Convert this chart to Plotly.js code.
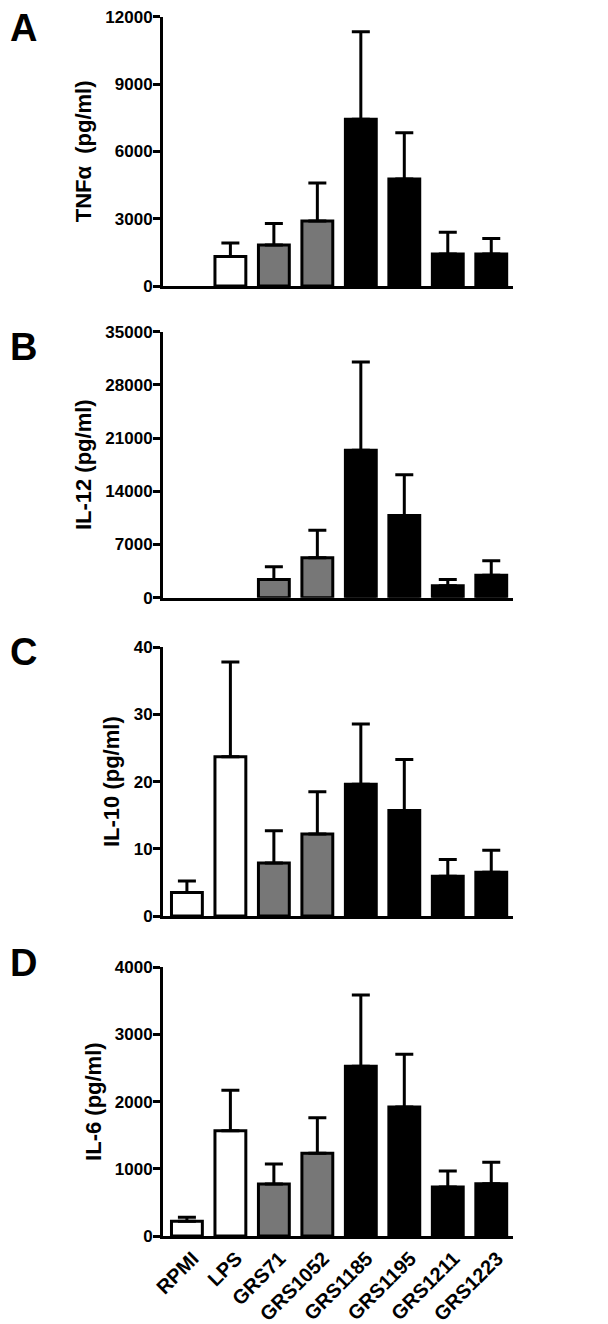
<!DOCTYPE html>
<html>
<head>
<meta charset="utf-8">
<script src="https://cdn.plot.ly/plotly-3.0.1.min.js"></script>
<style>
  html, body { margin: 0; padding: 0; background: #fff; }
  #chart { width: 608px; height: 1324px; }
</style>
</head>
<body>
<div id="chart"></div>
<script>
const categories = ['RPMI', 'LPS', 'GRS71', 'GRS1052', 'GRS1185', 'GRS1195', 'GRS1211', 'GRS1223'];
const barColors = ['#ffffff', '#ffffff', '#777777', '#777777', '#000000', '#000000', '#000000', '#000000'];

const tnfMean = [0, 1320, 1830, 2900, 7430, 4770, 1430, 1430];
const tnfErr  = [0, 600, 950, 1690, 3900, 2060, 960, 690];

const il12Mean = [0, 0, 2410, 5260, 19390, 10830, 1580, 2940];
const il12Err  = [0, 0, 1670, 3600, 11620, 5350, 830, 1930];

const il10Mean = [3.5, 23.7, 7.9, 12.2, 19.6, 15.7, 5.9, 6.5];
const il10Err  = [1.7, 14.1, 4.8, 6.3, 9.0, 7.6, 2.5, 3.3];

const il6Mean = [218, 1568, 774, 1231, 2526, 1921, 730, 779];
const il6Err  = [60, 600, 298, 531, 1062, 784, 238, 318];

const panelLetters = ['A', 'B', 'C', 'D'];
const yTitles = ['TNFα  (pg/ml)', 'IL-12 (pg/ml)', 'IL-10 (pg/ml)', 'IL-6 (pg/ml)'];
const yMax = [12000, 35000, 40, 4000];
const yDtick = [3000, 7000, 10, 1000];

const H = 1324, W = 608;
const FONT = 'Liberation Sans, Arial, Helvetica, sans-serif';
// pixel extents of each plot area (top, bottom)
const panelPx = [[16.7, 286], [331.7, 597.7], [647.3, 916], [967.3, 1236]];
const letterY = [28, 347, 652, 963];
const xDomain = [163 / W, 513 / W];

const series = [[tnfMean, tnfErr], [il12Mean, il12Err], [il10Mean, il10Err], [il6Mean, il6Err]];

const data = series.map((s, i) => ({
  type: 'bar',
  x: categories,
  y: s[0].map(v => (v === 0 ? null : v)),
  xaxis: 'x' + (i === 0 ? '' : i + 1),
  yaxis: 'y' + (i === 0 ? '' : i + 1),
  width: 0.71,
  marker: { color: barColors, line: { color: '#000', width: 3 } },
  error_y: {
    type: 'data', symmetric: false, array: s[1], arrayminus: s[1].map(() => 0),
    color: '#000', thickness: 3, width: 9
  },
  cliponaxis: false,
  hoverinfo: 'skip',
  showlegend: false
}));

const layout = {
  width: W, height: H,
  margin: { l: 0, r: 0, t: 0, b: 0 },
  paper_bgcolor: '#fff', plot_bgcolor: '#fff',
  font: { family: FONT, color: '#000', size: 17, weight: 'bold' },
  bargap: 0.29,
  annotations: []
};

for (let i = 0; i < 4; i++) {
  const sfx = i === 0 ? '' : String(i + 1);
  const [top, bot] = panelPx[i];
  layout['xaxis' + sfx] = {
    domain: xDomain,
    anchor: 'y' + sfx,
    type: 'category',
    categoryorder: 'array', categoryarray: categories,
    range: [-0.55, 7.5],
    showline: true, linecolor: '#000', linewidth: 3,
    ticks: '', showgrid: false, zeroline: false,
    showticklabels: i === 3,
    tickangle: -45,
    ticklabelshift: 6,
    tickfont: { family: FONT, size: 20, color: '#000', weight: 'bold' }
  };
  layout['yaxis' + sfx] = {
    domain: [1 - bot / H, 1 - top / H],
    anchor: 'x' + sfx,
    range: [0, yMax[i]],
    tick0: 0, dtick: yDtick[i],
    tickformat: 'd',
    showline: true, linecolor: '#000', linewidth: 3,
    ticks: 'outside', ticklen: 7, tickwidth: 3, tickcolor: '#000',
    ticklabelstandoff: -3,
    showgrid: false, zeroline: false,
    tickfont: { family: FONT, size: 17, color: '#000', weight: 'bold' },
    title: { text: yTitles[i], font: { family: FONT, size: 22, color: '#000', weight: 'bold' }, standoff: 8 }
  };
  layout.annotations.push({
    xref: 'paper', yref: 'paper', x: 8 / W, y: 1 - letterY[i] / H,
    xanchor: 'left', yanchor: 'middle', showarrow: false,
    text: panelLetters[i],
    font: { family: FONT, size: 38, color: '#000', weight: 'bold' }
  });
}

Plotly.newPlot('chart', data, layout, { displayModeBar: false, staticPlot: true });
</script>
</body>
</html>
